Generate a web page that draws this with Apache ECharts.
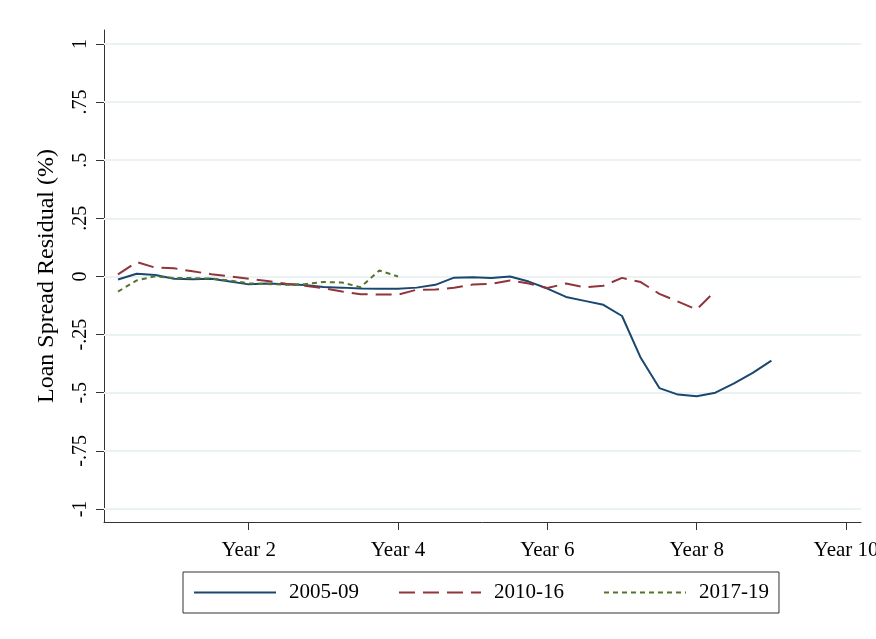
<!DOCTYPE html>
<html>
<head>
<meta charset="utf-8">
<script src="https://cdn.jsdelivr.net/npm/echarts@6/dist/echarts.min.js"></script>
<style>
html,body{margin:0;padding:0;background:#fff;}
#chart{width:876px;height:639px;}
</style>
</head>
<body>
<div id="chart"></div>
<script>
// Quarter index (1 = first quarter after origination); Year N = quarter 4N
const seriesNames = ['2005-09', '2010-16', '2017-19'];
const xTickValues = [8, 16, 24, 32, 40];
const xTickLabels = ['Year 2', 'Year 4', 'Year 6', 'Year 8', 'Year 10'];
const yTickValues = [-1, -0.75, -0.5, -0.25, 0, 0.25, 0.5, 0.75, 1];
const yTickLabels = ['-1', '-.75', '-.5', '-.25', '0', '.25', '.5', '.75', '1'];

const v2005 = [-0.013, 0.012, 0.006, -0.01, -0.012, -0.01, -0.022, -0.034, -0.03, -0.034,
  -0.037, -0.045, -0.048, -0.052, -0.053, -0.053, -0.048, -0.036, -0.005, -0.003,
  -0.007, 0.0, -0.022, -0.052, -0.088, -0.105, -0.122, -0.17, -0.35, -0.48,
  -0.508, -0.515, -0.5, -0.46, -0.415, -0.362];
const v2010 = [0.009, 0.062, 0.038, 0.035, 0.022, 0.01, 0.0, -0.01, -0.02, -0.031,
  -0.04, -0.05, -0.065, -0.076, -0.078, -0.078, -0.057, -0.056, -0.049, -0.035,
  -0.032, -0.017, -0.03, -0.05, -0.03, -0.047, -0.04, -0.006, -0.024, -0.075,
  -0.108, -0.142, -0.062];
const v2017 = [-0.065, -0.017, 0.001, -0.007, -0.007, -0.009, -0.017, -0.03, -0.032, -0.036,
  -0.033, -0.024, -0.026, -0.046, 0.026, 0.0];

const toPairs = arr => arr.map((v, i) => [i + 1, v]);
const serif = '"Liberation Serif", "Times New Roman", serif';

const chart = echarts.init(document.getElementById('chart'), null, {renderer: 'canvas'});
chart.setOption({
  animation: false,
  backgroundColor: '#fff',
  grid: {left: 104, right: 15, top: 30, bottom: 117, containLabel: false, outerBoundsMode: 'none'},
  xAxis: {
    type: 'value', min: 0.25, max: 40.8,
    axisLine: {show: true, onZero: false, lineStyle: {color: '#333', width: 1}},
    axisTick: {show: true, length: 8, customValues: xTickValues, lineStyle: {color: '#333'}},
    axisLabel: {
      customValues: xTickValues, margin: 18,
      fontFamily: serif, fontSize: 21, color: '#000',
      formatter: v => xTickLabels[xTickValues.indexOf(v)]
    },
    splitLine: {show: false}
  },
  yAxis: {
    type: 'value', min: -1.056, max: 1.06,
    name: 'Loan Spread Residual (%)', nameLocation: 'middle', nameGap: 45,
    nameTextStyle: {fontFamily: serif, fontSize: 24, color: '#000'},
    axisLine: {show: true, onZero: false, lineStyle: {color: '#333', width: 1}},
    axisTick: {show: true, length: 8, customValues: yTickValues, lineStyle: {color: '#333'}},
    axisLabel: {
      customValues: yTickValues, rotate: 90, margin: 13,
      fontFamily: serif, fontSize: 20, color: '#000',
      formatter: v => yTickLabels[yTickValues.indexOf(v)]
    },
    splitLine: {show: false}
  },
  legend: {
    left: 183, top: 572, width: 597,
    itemWidth: 82, itemHeight: 18, itemGap: 39,
    padding: [10, 10, 10, 10],
    borderColor: '#333', borderWidth: 1,
    itemStyle: {opacity: 0},
    textStyle: {fontFamily: serif, fontSize: 21, color: '#000', padding: [0, 0, 0, 8]},
    data: seriesNames
  },
  series: [
    {
      name: seriesNames[0], type: 'line', data: toPairs(v2005),
      symbol: 'none', lineStyle: {color: '#1a476f', width: 2, type: 'solid'},
      itemStyle: {color: '#1a476f'}, z: 3,
      markLine: {
        silent: true, symbol: 'none', label: {show: false},
        lineStyle: {color: '#eaf2f3', width: 2, type: 'solid'},
        data: yTickValues.map(v => ({yAxis: v})), z: 1
      }
    },
    {
      name: seriesNames[1], type: 'line', data: toPairs(v2010),
      symbol: 'none', lineStyle: {color: '#90353b', width: 2, type: [16, 8]},
      itemStyle: {color: '#90353b'}, z: 3
    },
    {
      name: seriesNames[2], type: 'line', data: toPairs(v2017),
      symbol: 'none', lineStyle: {color: '#55752f', width: 2, type: [5, 4]},
      itemStyle: {color: '#55752f'}, z: 3
    }
  ]
});
</script>
</body>
</html>
